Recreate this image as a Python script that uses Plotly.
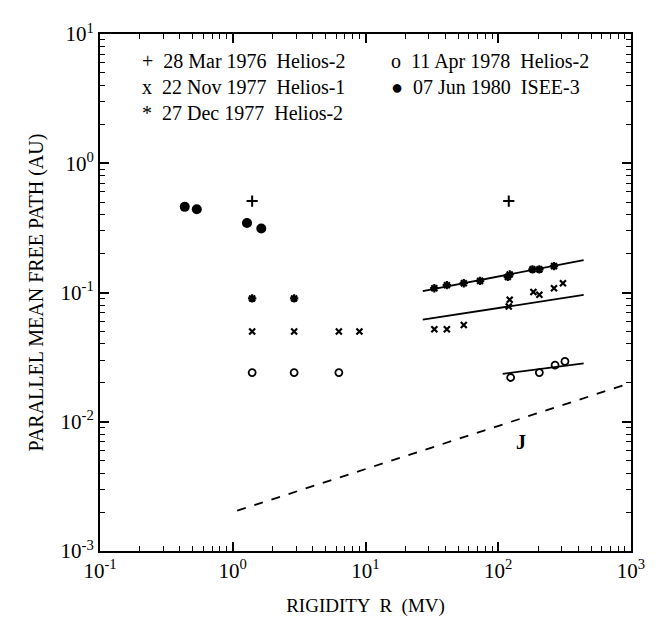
import plotly.graph_objects as go

# ---- data ------------------------------------------------------------
plus_r = [1.4, 120]
plus_mfp = [0.51, 0.51]

cross_r = [1.4, 2.9, 6.3, 9.0, 33, 41, 55, 120, 122, 184, 204, 263, 307]
cross_mfp = [0.05, 0.05, 0.05, 0.05, 0.052, 0.052, 0.056, 0.078, 0.088,
             0.101, 0.096, 0.108, 0.118]

star_r = [1.4, 2.9, 33, 41, 55, 73, 118, 122, 181, 204, 263]
star_mfp = [0.09, 0.09, 0.108, 0.114, 0.118, 0.123, 0.132, 0.138,
            0.151, 0.151, 0.160]

open_r = [1.4, 2.9, 6.3, 124, 204, 268, 318]
open_mfp = [0.024, 0.024, 0.024, 0.022, 0.024, 0.0274, 0.0293]

isee_r = [0.435, 0.536, 1.28, 1.64]
isee_mfp = [0.46, 0.44, 0.345, 0.313]

star_fit_r = [27, 440]
star_fit_mfp = [0.1026, 0.178]
cross_fit_r = [27, 440]
cross_fit_mfp = [0.0617, 0.0957]
open_fit_r = [108, 440]
open_fit_mfp = [0.0235, 0.0283]

j_r = [1.08, 1000]
j_mfp = [0.00205, 0.02]

legend_rows = [
    ("+  28 Mar 1976  Helios-2", "o  11 Apr 1978  Helios-2"),
    ("x  22 Nov 1977  Helios-1", "\u25CF  07 Jun 1980  ISEE-3"),
    ("*  27 Dec 1977  Helios-2", ""),
]

decades = [0.1, 1, 10, 100, 1000]
decade_labels = ["10<sup>-1</sup>", "10<sup>0</sup>", "10<sup>1</sup>",
                 "10<sup>2</sup>", "10<sup>3</sup>"]
ydecades = [0.001, 0.01, 0.1, 1, 10]
ydecade_labels = ["10<sup>-3</sup>", "10<sup>-2</sup>", "10<sup>-1</sup>",
                  "10<sup>0</sup>", "10<sup>1</sup>"]

SERIF = "Liberation Serif, Times New Roman, serif"
BLACK = "black"

fig = go.Figure()

# fitted lines and the J curve
for xr, yr in [(star_fit_r, star_fit_mfp), (cross_fit_r, cross_fit_mfp),
               (open_fit_r, open_fit_mfp)]:
    fig.add_trace(go.Scatter(x=xr, y=yr, mode="lines",
                             line=dict(color=BLACK, width=1.8)))
fig.add_trace(go.Scatter(x=j_r, y=j_mfp, mode="lines",
                         line=dict(color=BLACK, width=1.8, dash="dash")))

# events
fig.add_trace(go.Scatter(
    x=plus_r, y=plus_mfp, mode="markers",
    marker=dict(symbol="cross-thin", size=8, line=dict(color=BLACK, width=2))))
fig.add_trace(go.Scatter(
    x=cross_r, y=cross_mfp, mode="markers",
    marker=dict(symbol="x-thin", size=6, line=dict(color=BLACK, width=2.2))))
fig.add_trace(go.Scatter(
    x=star_r, y=star_mfp, mode="markers",
    marker=dict(symbol="asterisk", size=7, line=dict(color=BLACK, width=2.2))))
fig.add_trace(go.Scatter(
    x=open_r, y=open_mfp, mode="markers",
    marker=dict(symbol="circle-open", size=7, color=BLACK,
                line=dict(color=BLACK, width=1.8))))
fig.add_trace(go.Scatter(
    x=isee_r, y=isee_mfp, mode="markers",
    marker=dict(symbol="circle", size=10, color=BLACK)))

# legend typed as text in the upper left
for i, (left, right) in enumerate(legend_rows):
    ypos = 0.972 - i * 0.05
    fig.add_annotation(x=0.075, y=ypos, xref="paper", yref="paper",
                       text=left, showarrow=False, xanchor="left",
                       font=dict(family=SERIF, size=20, color=BLACK))
    if right:
        fig.add_annotation(x=0.545, y=ypos, xref="paper", yref="paper",
                           text=right, showarrow=False, xanchor="left",
                           font=dict(family=SERIF, size=20, color=BLACK))

fig.add_annotation(x=2.173, y=-2.16, text="<b>J</b>", showarrow=False,
                   font=dict(family=SERIF, size=20, color=BLACK))

axis_common = dict(
    type="log",
    showgrid=False,
    zeroline=False,
    showline=True,
    linecolor=BLACK,
    linewidth=2,
    mirror="ticks",
    ticks="inside",
    ticklen=9,
    tickwidth=1.5,
    tickcolor=BLACK,
    minor=dict(ticks="inside", ticklen=5, tickwidth=1.2, tickcolor=BLACK,
               dtick="D1", showgrid=False),
    tickfont=dict(family=SERIF, size=21, color=BLACK),
    ticklabeloverflow="allow",
)

fig.update_xaxes(axis_common, range=[-1, 3], tickvals=decades,
                 ticktext=decade_labels,
                 title=dict(text="RIGIDITY  R  (MV)", standoff=16,
                            font=dict(family=SERIF, size=19, color=BLACK)))
fig.update_yaxes(axis_common, range=[-3, 1], tickvals=ydecades,
                 ticktext=ydecade_labels,
                 title=dict(text="PARALLEL MEAN FREE PATH (AU)", standoff=12,
                            font=dict(family=SERIF, size=20, color=BLACK)))

# the page body adds an 8 px margin, so the figure is sized to fit inside it
fig.update_layout(
    width=649,
    height=617,
    margin=dict(l=92, r=19, t=12, b=68),
    showlegend=False,
    plot_bgcolor="white",
    paper_bgcolor="white",
)

fig.write_html("out.html")
